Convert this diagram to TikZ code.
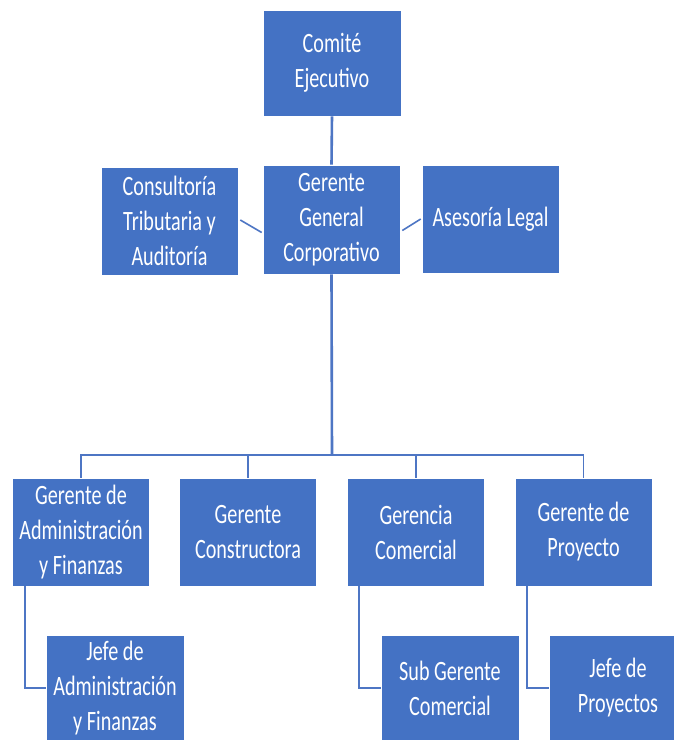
\documentclass[tikz,border=0pt]{standalone}
\usepackage{fontspec}
\setmainfont[FakeStretch=0.72]{Carlito}
\usetikzlibrary{calc}
\definecolor{boxblue}{RGB}{68,114,196}
\definecolor{lineblue}{RGB}{78,118,196}
\tikzset{
  orgbox/.style={rectangle, fill=boxblue, draw=white, line width=0.6pt, text=white,
    minimum width=137pt, minimum height=108pt, inner sep=0pt, align=center,
    font=\fontsize{28}{35}\selectfont},
  conn/.style={draw=lineblue, line width=1.6pt},
  trunk/.style={draw=lineblue, line width=2.6pt}
}
\begin{document}
\begin{tikzpicture}[x=1pt,y=-1pt]
\useasboundingbox (0,0) rectangle (674,740);
\clip (0,0) rectangle (674,740);
\fill[white] (0,0) rectangle (674,740);
% top
\node[orgbox, minimum width=138pt, minimum height=106pt] (ce) at (332,63) {Comité\\Ejecutivo};
\node[orgbox, minimum height=109pt] (ggc) at (331.5,219.5) {Gerente\\General\\Corporativo};
\node[orgbox] (ct) at (169.5,221) {Consultoría\\Tributaria y\\Auditoría};
\node[orgbox] (al) at (490.5,219) {Asesoría Legal};
% second level
\node[orgbox] (admin) at (81,532) {Gerente de\\Administración\\y Finanzas};
\node[orgbox] (cons) at (248,532) {Gerente\\Constructora};
\node[orgbox] (com) at (416,532) {Gerencia\\Comercial};
\node[orgbox] (proy) at (583.5,532) {Gerente de\\Proyecto};
% third level
\node[orgbox, minimum width=138pt, minimum height=106pt] (jadmin) at (115,688) {Jefe de\\Administración\\y Finanzas};
\node[orgbox, minimum width=138pt, minimum height=106pt] (sub) at (450,688) {Sub Gerente\\Comercial};
\node[orgbox, minimum width=138pt, minimum height=106pt] (jproy) at (618,688) {Jefe de\\Proyectos};
% connectors
\draw[trunk] (ce.south) -- (ggc.north);
\coordinate (bus) at (332,455);
\draw[trunk] (ggc.south) -- (bus);
\draw[conn] (bus) -| (admin.north);
\draw[conn] (bus) -| (cons.north);
\draw[conn] (bus) -| (com.north);
\draw[conn] (bus) -| (proy.north);
\draw[conn] ($(ct.east)+(2,-1)$) -- ($(ggc.west)+(-1,13)$);
\draw[conn] ($(ggc.east)+(2,11)$) -- ($(al.west)+(-1,0)$);
\draw[conn] ($(admin.south west)+(13,0)$) |- (jadmin.west);
\draw[conn] ($(com.south west)+(12,0)$) |- (sub.west);
\draw[conn] ($(proy.south west)+(12,0)$) |- (jproy.west);
\end{tikzpicture}
\end{document}
